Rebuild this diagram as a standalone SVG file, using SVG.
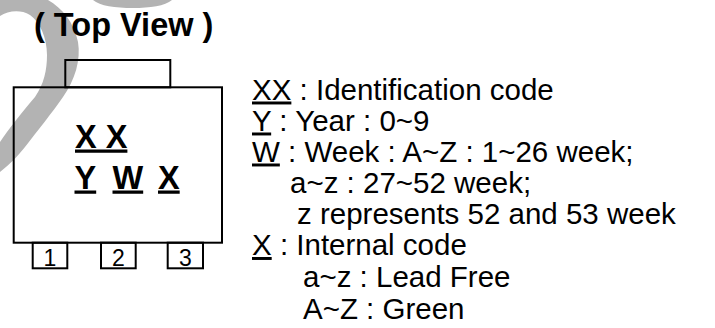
<svg xmlns="http://www.w3.org/2000/svg" width="715" height="328" viewBox="0 0 715 328">
<style>
.wm{fill:#b3b3b3;stroke:none}
.ln{fill:none;stroke:#000;stroke-width:2}
.t{font-family:"Liberation Sans",Arial,sans-serif;fill:#000}
.b{font-weight:bold;font-size:32.5px}
.r{font-size:29.5px}
.p{font-size:23px;text-anchor:middle}
.u{text-decoration:underline}
</style>
<rect width="715" height="328" fill="#fff"/>
<g id="watermark">
<path class="wm" d="M0,0 L48,0 C62,8 74,22 78,42 C81,60 75,80 63,97 C52,113 38,130 25,147 C18,156 10,164 0,172 L0,142 C8,130 22,112 35,97 C44,84 47,70 47,55 C47,38 40,22 30,15 C20,9 8,11 0,16 Z"/>
<path class="wm" d="M93,0 C100,6 115,8 133,8 C150,8 165,6 172,0 Z"/>
</g>
<g id="title"><text class="t b" x="34" y="36">( Top View )</text></g>
<g id="package">
<rect class="ln" x="65.3" y="60" width="105" height="27.3"/>
<rect class="ln" x="13.7" y="87.3" width="208.3" height="155.4"/>
<text class="t b u" x="75" y="147.5">X X</text>
<text class="t b" y="188.5"><tspan class="u" x="74.5">Y</tspan><tspan class="u" x="112.5">W</tspan><tspan class="u" x="158">X</tspan></text>
</g>
<g id="pin1"><rect class="ln" x="32.7" y="242.7" width="34.6" height="25.6"/><text class="t p" x="50" y="266">1</text></g>
<g id="pin2"><rect class="ln" x="101" y="242.7" width="34.7" height="25.6"/><text class="t p" x="118.3" y="266">2</text></g>
<g id="pin3"><rect class="ln" x="167.7" y="242.7" width="35.3" height="25.6"/><text class="t p" x="185.3" y="266">3</text></g>
<g id="legend" class="t r">
<text x="252" y="99.5"><tspan class="u">XX</tspan> : Identification code</text>
<text x="252" y="130.5"><tspan class="u">Y</tspan> : Year : 0~9</text>
<text x="252" y="161.5"><tspan class="u">W</tspan> : Week : A~Z : 1~26 week;</text>
<text x="290" y="192.5">a~z : 27~52 week;</text>
<text x="297" y="223.5">z represents 52 and 53 week</text>
<text x="252" y="255"><tspan class="u">X</tspan> : Internal code</text>
<text x="303" y="287">a~z : Lead Free</text>
<text x="303" y="319">A~Z : Green</text>
</g>
</svg>
